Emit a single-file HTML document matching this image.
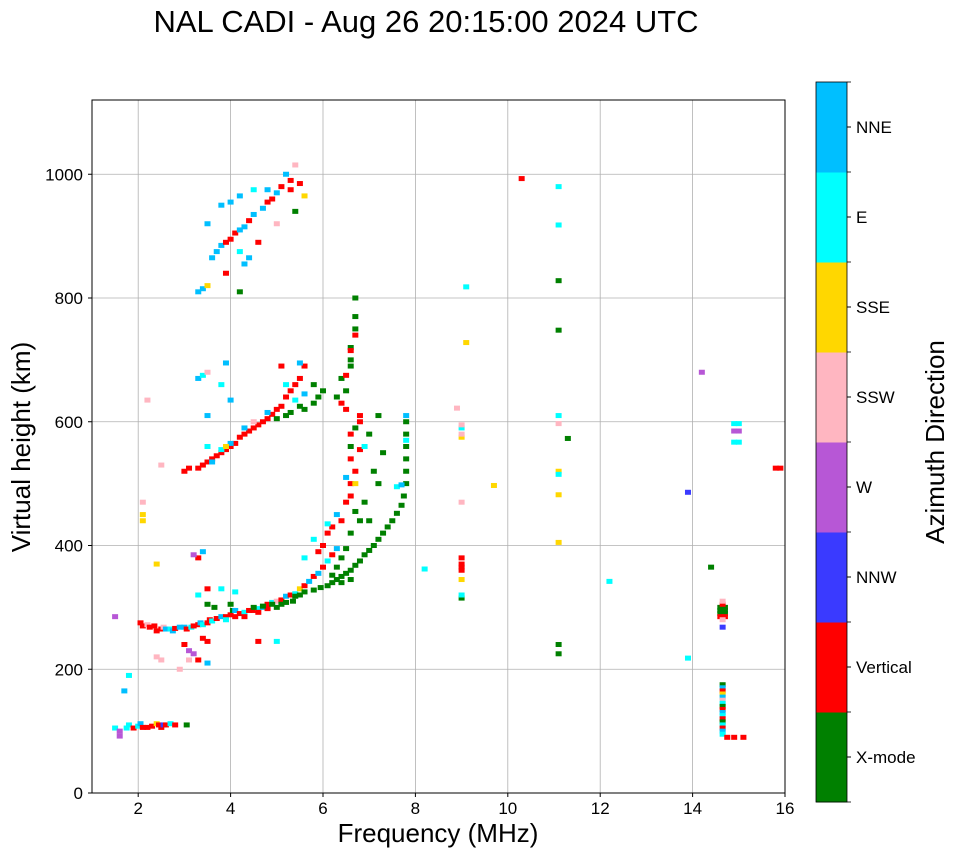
<!DOCTYPE html>
<html><head><meta charset="utf-8"><style>
body{margin:0;background:#fff;}
svg{display:block;font-family:"Liberation Sans",sans-serif;}
</style></head><body>
<svg id="chart" width="958" height="857">
<text x="426" y="32" text-anchor="middle" font-size="31">NAL CADI - Aug 26 20:15:00 2024 UTC</text>
<g id="grid"></g>
<g id="marks"></g>
<rect x="92" y="100" width="693" height="693" fill="none" stroke="#000" stroke-width="1"/>
<g id="axes"></g>
<text x="438" y="842" text-anchor="middle" font-size="26">Frequency (MHz)</text>
<text transform="translate(30,447) rotate(-90)" text-anchor="middle" font-size="26">Virtual height (km)</text>
<g id="cbar"></g>
<text transform="translate(944,442) rotate(-90)" text-anchor="middle" font-size="26">Azimuth Direction</text>
</svg>
<script>
const xTicks=[2,4,6,8,10,12,14,16];
const yTicks=[0,200,400,600,800,1000];
const directionLabels=["X-mode","Vertical","NNW","W","SSW","SSE","E","NNE"];
const directionColors=["#008000","#ff0000","#3a3aff","#b757d6","#ffb6c1","#ffd700","#00ffff","#00bfff"];
const eLayerPoints=[[1.5,105,6],[1.6,100,3],[1.6,92,3],[1.75,105,6],[1.8,110,6],[1.9,105,1],[2.0,108,6],[2.05,112,7],[2.1,106,1],[2.2,106,1],[2.3,108,1],[2.4,112,5],[2.45,110,1],[2.5,106,1],[2.55,110,2],[2.6,110,1],[2.7,112,6],[2.8,110,1],[3.05,110,0],[1.7,165,7],[1.8,190,6]];
const fLayerPoints=[[2.05,275,1],[2.1,270,1],[2.2,272,4],[2.25,268,1],[2.35,270,1],[2.4,262,1],[2.5,265,1],[2.55,268,4],[2.6,265,7],[2.7,265,6],[2.75,262,7],[2.8,266,1],[2.9,268,7],[3.0,268,7],[3.05,265,1],[3.15,268,6],[3.2,270,1],[3.3,272,1],[3.35,275,7],[3.4,272,6],[3.5,275,1],[3.55,280,1],[3.6,278,6],[3.7,282,1],[3.8,285,7],[3.9,285,1],[4.0,288,1],[4.05,295,0],[4.1,295,7],[4.2,290,1],[4.3,292,6],[4.4,295,1],[4.5,295,1],[4.6,298,6],[4.7,300,7],[4.8,305,1],[4.9,308,6],[5.0,310,4],[5.1,312,1],[5.2,318,7],[5.3,320,1],[5.4,322,6],[5.5,330,5],[5.6,335,1],[5.7,342,7],[5.8,350,1],[5.9,355,7],[6.0,365,1],[6.1,375,6],[6.2,385,1],[6.3,395,7],[3.9,280,6],[4.1,285,1],[4.3,285,1],[4.6,292,1],[4.8,298,1]];
const xModePoints=[[3.5,305,0],[3.65,300,0],[4.0,305,0],[4.5,300,0],[4.7,302,0],[4.9,305,0],[5.0,300,0],[5.1,305,0],[5.2,308,0],[5.35,310,0],[5.4,318,0],[5.5,320,0],[5.6,325,0],[5.8,328,0],[5.95,332,0],[6.1,335,0],[6.2,340,0],[6.3,345,0],[6.4,350,0],[6.5,355,0],[6.6,360,0],[6.7,368,0],[6.8,375,0],[6.9,385,0],[7.0,392,0],[7.1,400,0],[7.2,410,0],[7.3,420,0],[7.4,430,0],[7.5,440,0],[7.6,452,0],[7.7,465,0],[7.75,480,0],[7.8,500,0],[7.8,520,0],[7.8,540,0],[7.8,560,0],[7.8,580,0],[7.8,600,0],[7.6,495,6],[7.7,498,7],[7.8,570,6],[7.8,610,7],[6.3,365,0],[6.4,380,0],[6.5,395,0],[6.6,420,0],[6.8,440,0],[6.7,455,0],[6.9,470,0],[7.0,440,0],[7.2,500,0],[7.1,520,0],[7.3,550,0],[7.0,580,0],[7.2,610,0],[6.5,650,0],[6.6,690,0],[6.6,720,0],[6.7,750,0],[6.7,770,0],[6.7,800,0],[6.6,700,0],[6.4,670,0],[6.3,640,0],[6.7,590,0],[6.6,560,0],[6.4,340,0],[6.6,345,0],[6.2,352,0]];
const oModePoints=[[6.0,400,1],[6.1,420,1],[6.2,430,1],[6.4,440,1],[6.5,470,1],[6.6,480,1],[6.6,500,1],[6.7,520,1],[6.6,540,1],[6.8,555,1],[6.6,580,1],[6.8,600,1],[6.8,610,1],[6.4,630,1],[6.5,620,1],[6.7,740,1],[6.5,675,1],[6.6,715,1],[6.1,435,6],[6.5,510,7],[6.9,560,6],[6.7,500,5],[6.3,450,7],[5.8,410,6],[5.9,390,1],[5.6,380,6]];
const scatterLowPoints=[[3.0,240,1],[3.1,230,3],[3.2,225,3],[3.3,215,1],[3.5,210,7],[3.1,215,4],[2.4,220,4],[2.5,215,4],[3.4,250,1],[3.5,245,1],[3.3,380,1],[3.2,385,3],[3.4,390,7],[2.9,200,4],[3.5,330,1],[3.3,320,6],[3.8,330,6],[4.1,325,6],[4.6,245,1],[5.0,245,6],[2.4,370,5],[2.1,440,5],[2.1,450,5],[2.1,470,4],[2.2,635,4],[2.5,530,4],[1.5,285,3]];
const secondHopPoints=[[3.0,520,1],[3.1,525,1],[3.3,525,1],[3.4,530,1],[3.5,535,1],[3.6,540,1],[3.7,545,1],[3.8,550,1],[3.9,555,1],[4.0,560,1],[4.1,565,1],[4.2,575,1],[4.3,580,1],[4.4,585,1],[4.5,590,1],[4.6,595,1],[4.7,600,1],[4.8,605,1],[4.9,612,1],[5.0,620,1],[5.1,625,1],[5.2,640,1],[5.3,650,1],[5.4,660,1],[5.5,670,1],[5.6,690,1],[3.6,535,7],[3.8,555,6],[4.0,565,7],[4.3,590,7],[4.5,600,4],[4.8,615,7],[5.0,605,0],[5.2,610,0],[5.3,615,0],[5.5,625,0],[5.6,620,0],[5.8,630,0],[5.9,640,0],[6.0,650,0],[5.8,660,0],[5.4,635,6],[5.6,645,7],[5.2,660,6],[3.9,560,5],[4.0,635,7],[3.3,670,7],[3.4,675,6],[3.5,680,4],[3.9,695,7],[3.8,660,6],[3.5,610,7],[3.5,560,6],[5.1,690,1],[5.5,695,7]];
const thirdHopPoints=[[3.3,810,7],[3.4,815,7],[3.5,820,5],[3.6,865,7],[3.7,875,7],[3.8,885,7],[3.9,890,1],[4.0,895,1],[4.1,905,1],[4.2,910,7],[4.3,915,7],[4.4,925,1],[4.5,935,7],[4.6,890,1],[4.7,945,7],[4.8,955,1],[4.9,960,1],[5.0,970,7],[5.1,980,1],[5.2,1000,7],[5.3,990,1],[5.4,1015,4],[3.9,840,1],[3.5,920,7],[3.8,950,7],[4.0,955,7],[4.2,965,7],[4.5,975,6],[4.8,975,7],[5.3,975,1],[5.4,940,0],[5.0,920,4],[4.4,865,7],[4.3,855,7],[4.2,875,6],[4.2,810,0],[5.6,965,5],[5.5,985,1]];
const highFreqPoints=[[9.0,315,0],[9.0,320,6],[9.0,345,5],[9.0,360,1],[9.0,365,1],[9.0,370,1],[9.0,380,1],[9.0,470,4],[9.0,575,5],[9.0,580,4],[9.0,590,6],[9.0,595,4],[8.9,622,4],[9.1,728,5],[9.1,818,6],[8.2,362,6],[9.7,497,5],[10.3,993,1],[11.1,980,6],[11.1,918,6],[11.1,828,0],[11.1,748,0],[11.1,610,6],[11.1,597,4],[11.1,520,5],[11.1,515,6],[11.1,482,5],[11.1,405,5],[11.1,240,0],[11.1,225,0],[11.3,573,0],[12.2,342,6],[13.9,486,2],[13.9,218,6],[14.2,680,3],[14.4,365,0],[14.9,597,6],[15.0,597,6],[14.9,585,3],[15.0,585,3],[14.9,567,6],[15.0,567,6],[15.8,525,1],[15.9,525,1],[14.6,290,0],[14.6,295,0],[14.6,300,0],[14.7,290,0],[14.7,295,0],[14.7,300,0],[14.6,285,1],[14.7,285,1],[14.65,280,4],[14.65,305,1],[14.65,310,4],[14.65,268,2],[14.65,175,0],[14.65,170,7],[14.65,165,1],[14.65,160,5],[14.65,155,7],[14.65,150,4],[14.65,145,6],[14.65,140,0],[14.65,135,1],[14.65,130,7],[14.65,125,6],[14.65,120,1],[14.65,115,0],[14.65,110,6],[14.65,105,1],[14.65,100,7],[14.65,95,6],[14.75,90,1],[14.9,90,1],[15.1,90,1]];

const NS="http://www.w3.org/2000/svg";
const X0=92,X1=785,Y0=793,YT=100;
function xs(f){return X0+(f-1)*(X1-X0)/15;}
function ys(h){return Y0-h*(Y0-YT)/1120;}
function mk(tag,attrs,parent){const e=document.createElementNS(NS,tag);for(const k in attrs)e.setAttribute(k,attrs[k]);parent.appendChild(e);return e;}
const grid=document.getElementById('grid'),axes=document.getElementById('axes'),marks=document.getElementById('marks'),cbar=document.getElementById('cbar');
xTicks.forEach(t=>{const x=xs(t);
 const g=mk('line',{x1:x,x2:x,y1:YT,y2:Y0,stroke:'#b0b0b0','stroke-width':0.8},grid);
 
 
 mk('line',{x1:x,x2:x,y1:Y0,y2:Y0+4,stroke:'#000'},axes);
 const l=mk('text',{x:x,y:Y0+21,'text-anchor':'middle','font-size':17},axes);l.textContent=t;
 
 
});
yTicks.forEach(t=>{const y=ys(t);
 const g=mk('line',{x1:X0,x2:X1,y1:y,y2:y,stroke:'#b0b0b0','stroke-width':0.8},grid);
 
 
 mk('line',{x1:X0-4,x2:X0,y1:y,y2:y,stroke:'#000'},axes);
 const l=mk('text',{x:X0-9,y:y+6,'text-anchor':'end','font-size':17},axes);l.textContent=t;
 
 
});
[eLayerPoints,fLayerPoints,xModePoints,oModePoints,scatterLowPoints,secondHopPoints,thirdHopPoints,highFreqPoints].forEach(arr=>arr.forEach(p=>{
 const r=mk('rect',{x:xs(p[0])-3,y:ys(p[1])-2.5,width:6,height:5,fill:directionColors[p[2]]},marks);
 
 
}));
const CB0=82,CB1=802,CBX=816,CBW=31,n=directionLabels.length,bh=(CB1-CB0)/n;
directionLabels.forEach((lab,i)=>{const y=CB1-(i+1)*bh;
 const r=mk('rect',{x:CBX,y:y,width:CBW,height:bh+0.5,fill:directionColors[i]},cbar);
 
 
 mk('line',{x1:CBX+CBW,x2:CBX+CBW+4,y1:y+bh/2,y2:y+bh/2,stroke:'#000'},cbar);
 const t=mk('text',{x:CBX+CBW+9,y:y+bh/2+6,'font-size':17},cbar);t.textContent=lab;
 
 
});
for(let i=0;i<=n;i++){const y=CB0+i*bh;mk('line',{x1:CBX+CBW,x2:CBX+CBW+4,y1:y,y2:y,stroke:'#000','stroke-width':0.8},cbar);}
mk('rect',{x:CBX,y:CB0,width:CBW,height:CB1-CB0,fill:'none',stroke:'#000','stroke-width':0.8},cbar);
</script>
</body></html>
